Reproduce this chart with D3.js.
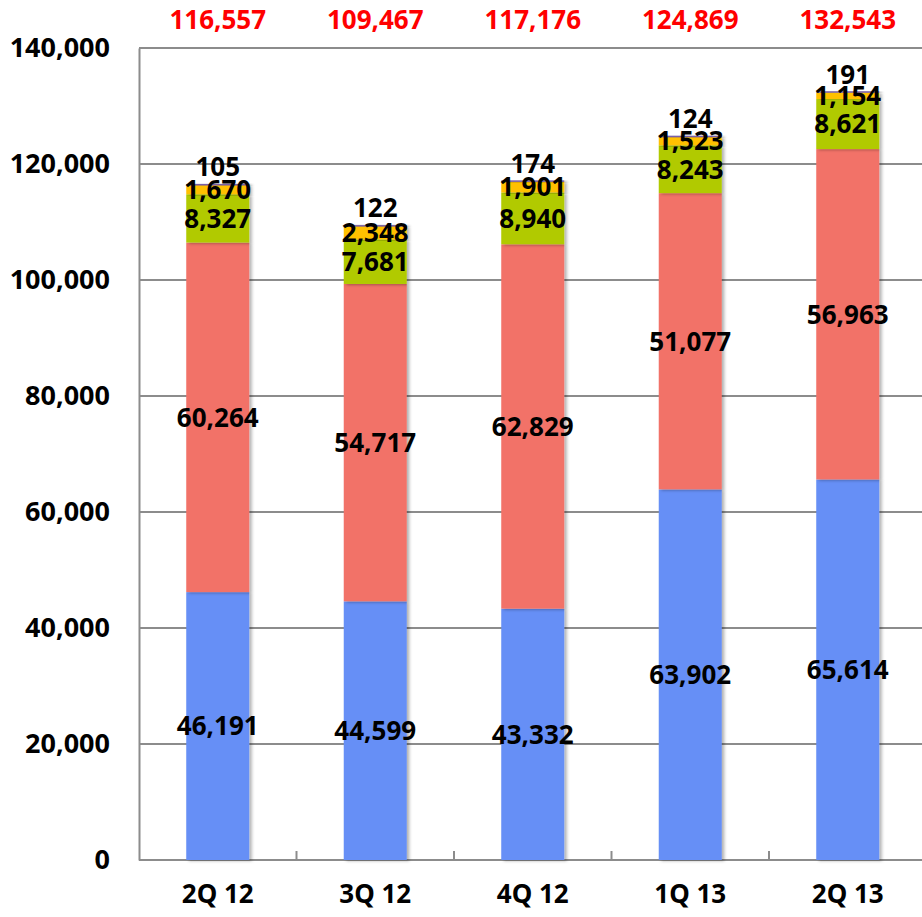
<!DOCTYPE html>
<html>
<head>
<meta charset="utf-8">
<script src="https://cdn.jsdelivr.net/npm/d3@7"></script>
<style>
  body { margin: 0; background: #fff; }
  #chart { width: 922px; height: 917px; }
  text { font-family: "Noto Sans", "DejaVu Sans", sans-serif; font-weight: bold; }
</style>
</head>
<body>
<div id="chart"></div>
<script>
//Datos del gráfico
const quarters = ['2Q 12', '3Q 12', '4Q 12', '1Q 13', '2Q 13'];
const serieBlue = [46191, 44599, 43332, 63902, 65614];
const serieRed = [60264, 54717, 62829, 51077, 56963];
const serieGreen = [8327, 7681, 8940, 8243, 8621];
const serieOrange = [1670, 2348, 1901, 1523, 1154];
const seriePurple = [105, 122, 174, 124, 191];
const totals = [116557, 109467, 117176, 124869, 132543];
const yTicks = [0, 20000, 40000, 60000, 80000, 100000, 120000, 140000];

const series = [serieBlue, serieRed, serieGreen, serieOrange, seriePurple];
const keys = ['blue', 'red', 'green', 'orange', 'purple'];
const colors = ['#668ff6', '#f27268', '#b1ca06', '#ffc000', '#7a5fa8'];

let margin = {top: 48, right: 0, bottom: 57, left: 139},
    width = 922 - margin.left - margin.right,
    height = 917 - margin.top - margin.bottom;

let svg = d3.select('#chart')
    .append('svg')
        .attr('width', 922)
        .attr('height', 917)
    .append('g')
        .attr('transform', 'translate(' + margin.left + ',' + margin.top + ')');

//Sombra de las barras
let defs = svg.append('defs');
let filter = defs.append('filter').attr('id', 'shadow')
    .attr('x', '-10%').attr('y', '-10%').attr('width', '130%').attr('height', '120%');
filter.append('feDropShadow')
    .attr('dx', 2.5).attr('dy', 1)
    .attr('stdDeviation', 1.5)
    .attr('flood-color', '#000')
    .attr('flood-opacity', 0.3);

let data = quarters.map(function(q, i) {
    let row = {quarter: q};
    keys.forEach(function(k, j) { row[k] = series[j][i]; });
    return row;
});

let step = 157.5;
let x = d3.scaleBand()
    .domain(quarters)
    .range([0, step * quarters.length])
    .paddingInner(0.6)
    .paddingOuter(0.3);

let y = d3.scaleLinear()
    .domain([0, 140000])
    .range([height, 0]);

//Rejilla
svg.append('g')
    .selectAll('line')
    .data(yTicks)
    .enter()
    .append('line')
    .attr('x1', 0)
    .attr('x2', width)
    .attr('y1', function(d) { return y(d); })
    .attr('y2', function(d) { return y(d); })
    .attr('stroke', '#8c8c8c')
    .attr('stroke-width', 2);

//Eje Y
let yAxis = function(g) {
    g.call(d3.axisLeft(y).tickValues(yTicks).tickSize(0).tickPadding(29).tickFormat(d3.format(',')));
    g.select('.domain').attr('stroke', '#8c8c8c').attr('stroke-width', 2);
    g.selectAll('text').attr('font-size', 27).attr('fill', '#000').attr('font-family', null);
};
svg.append('g').call(yAxis);

//Eje X
let xAxis = function(g) {
    g.call(d3.axisBottom(x).tickSize(0).tickPadding(25));
    g.select('.domain').remove();
    g.selectAll('text').attr('font-size', 26).attr('fill', '#000').attr('font-family', null);
};
svg.append('g')
    .attr('transform', 'translate(0,' + height + ')')
    .call(xAxis);

//Marcas entre categorías
svg.append('g')
    .selectAll('line')
    .data(d3.range(1, quarters.length + 1))
    .enter()
    .append('line')
    .attr('x1', function(d) { return d * step; })
    .attr('x2', function(d) { return d * step; })
    .attr('y1', height - 9)
    .attr('y2', height)
    .attr('stroke', '#8c8c8c')
    .attr('stroke-width', 2);

//Barras apiladas
let stacked = d3.stack().keys(keys)(data);

let layers = svg.append('g')
    .selectAll('g')
    .data(stacked)
    .enter()
    .append('g')
    .attr('fill', function(d, i) { return colors[i]; });

layers.selectAll('rect')
    .data(function(d) { return d; })
    .enter()
    .append('rect')
    .attr('x', function(d) { return x(d.data.quarter); })
    .attr('width', x.bandwidth())
    .attr('y', function(d) { return y(d[1]); })
    .attr('height', function(d) { return Math.max(y(d[0]) - y(d[1]), 1.5); })
    .attr('filter', 'url(#shadow)');

//Etiquetas de los segmentos
stacked.forEach(function(layer, i) {
    svg.append('g')
        .selectAll('text')
        .data(layer)
        .enter()
        .append('text')
        .attr('x', function(d) { return x(d.data.quarter) + x.bandwidth() / 2; })
        .attr('y', function(d) {
            if (keys[i] == 'purple') return y(d[1]) - 17;
            return y((d[0] + d[1]) / 2);
        })
        .attr('dy', '0.36em')
        .attr('text-anchor', 'middle')
        .attr('font-size', 26)
        .attr('fill', '#000')
        .text(function(d) { return d3.format(',')(d[1] - d[0]); });
});

//Totales
svg.append('g')
    .selectAll('text')
    .data(totals)
    .enter()
    .append('text')
    .attr('x', function(d, i) { return x(quarters[i]) + x.bandwidth() / 2; })
    .attr('y', -28)
    .attr('dy', '0.36em')
    .attr('text-anchor', 'middle')
    .attr('font-size', 26)
    .attr('fill', '#ff0000')
    .text(function(d) { return d3.format(',')(d); });
</script>
</body>
</html>
